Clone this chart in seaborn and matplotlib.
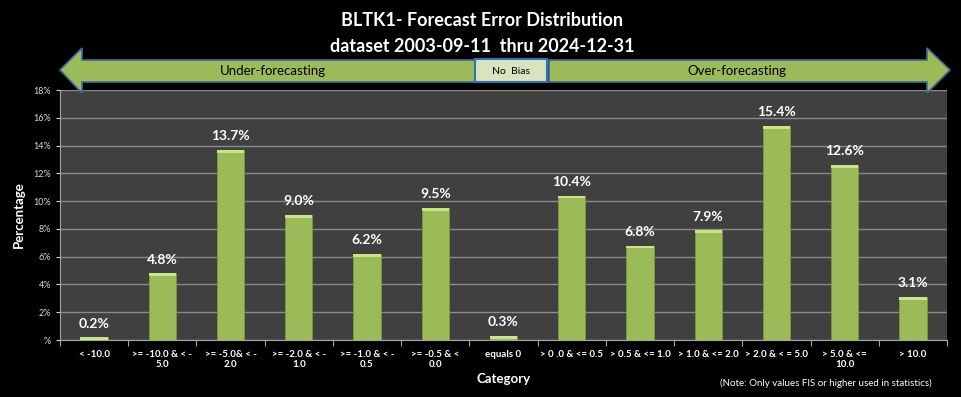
import numpy as np
import pandas as pd
import matplotlib
matplotlib.use('Agg')
import matplotlib.pyplot as plt
import seaborn as sns
from matplotlib.patches import Polygon, Rectangle

# Data
categories = ['< -10.0', '>= -10.0 & < -\n5.0', '>= -5.0& < -\n2.0', '>= -2.0 & < -\n1.0',
              '>= -1.0 & < -\n0.5', '>= -0.5 & <\n0.0', 'equals 0', '> 0 .0 & <= 0.5',
              '> 0.5 & <= 1.0', '> 1.0 & <= 2.0', '> 2.0 & < = 5.0', '> 5.0 & <=\n10.0', '> 10.0']
percent = [0.2, 4.8, 13.7, 9.0, 6.2, 9.5, 0.3, 10.4, 6.8, 7.9, 15.4, 12.6, 3.1]
y_ticks = [0, 2, 4, 6, 8, 10, 12, 14, 16, 18]
y_tick_labels = ['%', '2%', '4%', '6%', '8%', '10%', '12%', '14%', '16%', '18%']

df = pd.DataFrame({'category': categories, 'percent': percent})

sns.set_style('dark')
plt.rcParams['font.family'] = ['Lato', 'DejaVu Sans']

W, H = 961, 397
fig = plt.figure(figsize=(W / 100, H / 100), dpi=100, facecolor='black')
ax = fig.add_axes([60 / W, 1 - 340 / H, 887 / W, 250 / H])
ax.set_facecolor('#404040')

sns.barplot(data=df, x='category', y='percent', color='#9BBB59', width=0.4,
            saturation=1, edgecolor='#7A9A3A', linewidth=0.6, ax=ax, zorder=3)

# bevel highlight on top of each bar + value labels
for p, v in zip(ax.patches, percent):
    x0, w, h = p.get_x(), p.get_width(), p.get_height()
    cap = min(0.2, h)
    ax.add_patch(Rectangle((x0, h - cap), w, cap, facecolor='#C9E58A',
                           edgecolor='none', zorder=4))
    ax.text(x0 + w / 2, h + 0.55, f'{v:.1f}%', ha='center', va='bottom',
            color='white', fontsize=10, fontweight='bold', zorder=5)

ax.set_ylim(0, 18)
ax.set_xlim(-0.5, len(categories) - 0.5)
ax.set_yticks(y_ticks)
ax.set_yticklabels(y_tick_labels)
ax.grid(axis='y', color='#8a8a8a', linewidth=1.0, zorder=0)
ax.grid(axis='x', visible=False)
ax.set_axisbelow(True)
ax.tick_params(axis='y', colors='#d9d9d9', labelsize=6.5, length=3, width=0.8, direction='out', left=True)
ax.tick_params(axis='x', colors='#ffffff', labelsize=7, length=0, pad=7)
for lbl in ax.get_xticklabels():
    lbl.set_fontweight('bold')
ax.set_xticks(np.arange(-0.5, len(categories), 1), minor=True)
ax.tick_params(axis='x', which='minor', length=4, color='#a6a6a6', width=0.8, bottom=True)
for s in ['top', 'right']:
    ax.spines[s].set_visible(False)
for s in ['left', 'bottom']:
    ax.spines[s].set_visible(True)
    ax.spines[s].set_color('#a6a6a6')
    ax.spines[s].set_linewidth(0.8)

ax.set_xlabel('Category', color='white', fontsize=9.5, fontweight='bold', labelpad=3)
ax.set_ylabel('Percentage', color='white', fontsize=9.5, fontweight='bold', labelpad=6)

# overlay for title, arrows and note (pixel coordinates)
ov = fig.add_axes([0, 0, 1, 1], facecolor='none')
ov.set_xlim(0, W)
ov.set_ylim(H, 0)
ov.axis('off')

ov.text(482, 21, 'BLTK1- Forecast Error Distribution', ha='center', va='center',
        color='white', fontsize=13, fontweight='bold')
ov.text(482, 47, 'dataset 2003-09-11  thru 2024-12-31', ha='center', va='center',
        color='white', fontsize=13, fontweight='bold')

arrow_face, arrow_edge = '#9BBB59', '#3F6A9A'
left_arrow = [(60, 70), (82, 48), (82, 60), (475, 60), (475, 82), (82, 82), (82, 93)]
ov.add_patch(Polygon(left_arrow, closed=True, facecolor=arrow_face, edgecolor=arrow_edge, lw=1.2))
right_arrow = [(950, 70), (927, 48), (927, 60), (549, 60), (549, 82), (927, 82), (927, 93)]
ov.add_patch(Polygon(right_arrow, closed=True, facecolor=arrow_face, edgecolor=arrow_edge, lw=1.2))
ov.add_patch(Rectangle((475, 59), 72, 23, facecolor='#D7E4BD', edgecolor='#2E74B5', lw=1.5))

ov.text(273, 71, 'Under-forecasting', ha='center', va='center', color='black', fontsize=9.5)
ov.text(511, 71, 'No  Bias', ha='center', va='center', color='black', fontsize=7.5)
ov.text(737, 71, 'Over-forecasting', ha='center', va='center', color='black', fontsize=9.5)

ov.text(826, 383, '(Note: Only values FIS or higher used in statistics)', ha='center',
        va='center', color='white', fontsize=7)

fig.savefig('out.png', dpi=100, facecolor='black')
